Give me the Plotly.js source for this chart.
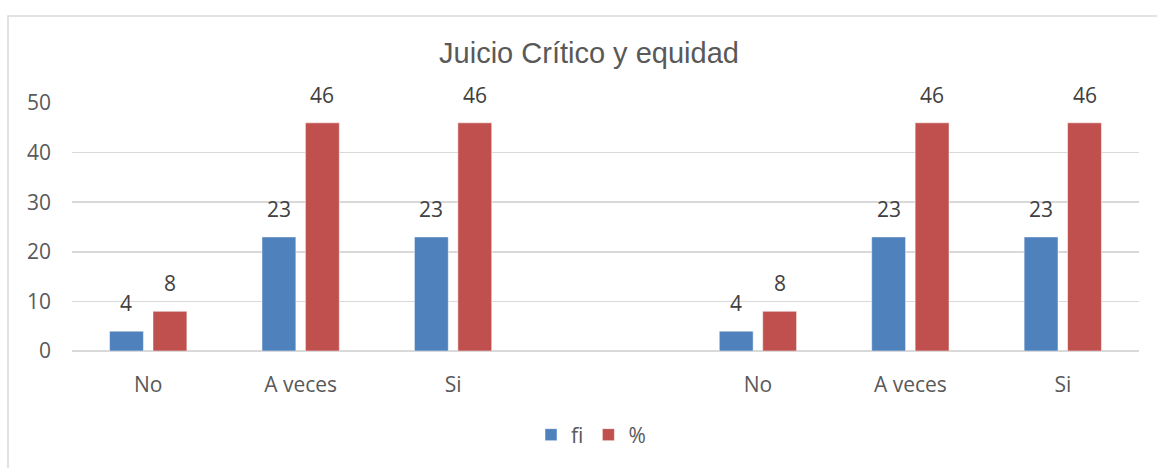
<!DOCTYPE html>
<html>
<head>
<meta charset="utf-8">
<script src="https://cdn.plot.ly/plotly-3.0.1.min.js"></script>
<style>html,body{margin:0;padding:0;background:#fff;}#chart{width:1157px;height:468px;}</style>
</head>
<body>
<div id="chart"></div>
<script>
const positions = [0, 1, 2, 4, 5, 6];
const categories = ["No", "A veces", "Si", "No", "A veces", "Si"];
const fiValues = [4, 23, 23, 4, 23, 23];
const pctValues = [8, 46, 46, 8, 46, 46];
const seriesNames = ["fi", "%"];

const W = 1157, H = 468, L = 72, R = 18, T = 103, B = 114;
const pw = W - L - R, ph = H - T - B;
const BARGAP = 0.43, GROUPGAP = 0.22;
const labelFont = {family: "Open Sans, sans-serif", size: 21, color: "#404040"};
const tickFont = {family: "Open Sans, sans-serif", size: 21, color: "#595959"};

const traces = [
  {type: "bar", name: seriesNames[0], x: positions, y: fiValues,
   marker: {color: "#4f81bd", line: {color: "#ffffff", width: 0.5}}, hoverinfo: "skip"},
  {type: "bar", name: seriesNames[1], x: positions, y: pctValues,
   marker: {color: "#c0504d", line: {color: "#ffffff", width: 0.5}}, hoverinfo: "skip"}
];

// data labels placed over bar centres (group offset derived from bargap)
const slot = (1 - BARGAP) / 2;
const annotations = [];
[fiValues, pctValues].forEach((vals, si) => {
  const off = (si - 0.5) * slot;
  vals.forEach((v, k) => {
    annotations.push({x: positions[k] + off, y: v, xref: "x", yref: "y", text: String(v),
      showarrow: false, yanchor: "bottom", yshift: 12, font: labelFont});
  });
});

const layout = {
  width: W, height: H,
  margin: {l: L, r: R, t: T, b: B, pad: 0},
  paper_bgcolor: "#ffffff", plot_bgcolor: "#ffffff",
  title: {text: "Juicio Crítico y equidad", x: 589 / W, xanchor: "center", y: 1 - 53 / H, yanchor: "middle",
          font: {family: "Liberation Sans, Arial, sans-serif", size: 29, color: "#595959"}},
  barmode: "group", bargap: BARGAP, bargroupgap: GROUPGAP,
  showlegend: true,
  legend: {orientation: "h", x: (591 - L) / pw, xanchor: "center", y: (H - B - 439) / ph, yanchor: "middle",
           font: {family: "Open Sans, sans-serif", size: 21, color: "#595959"}, itemwidth: 30, traceorder: "normal"},
  xaxis: {range: [-0.5, 6.5], tickmode: "array", tickvals: positions, ticktext: categories,
          showgrid: false, zeroline: false, showline: false, ticks: "", ticklabelstandoff: 19, tickfont: tickFont},
  yaxis: {range: [0, 50], tickvals: [0, 10, 20, 30, 40, 50], showgrid: true, gridcolor: "#d9d9d9", gridwidth: 1.5,
          zeroline: true, zerolinecolor: "#d9d9d9", zerolinewidth: 1.5, showline: false, ticks: "",
          ticklabelstandoff: 20, tickfont: tickFont},
  annotations: annotations,
  shapes: [
    {type: "rect", xref: "paper", yref: "paper", x0: (8 - L) / pw, x1: 1.3, y0: -1, y1: (H - B - 15) / ph,
     line: {color: "#d9d9d9", width: 1.5}, fillcolor: "rgba(0,0,0,0)", layer: "below"}
  ]
};

Plotly.newPlot("chart", traces, layout, {displayModeBar: false, staticPlot: true});
</script>
</body>
</html>
